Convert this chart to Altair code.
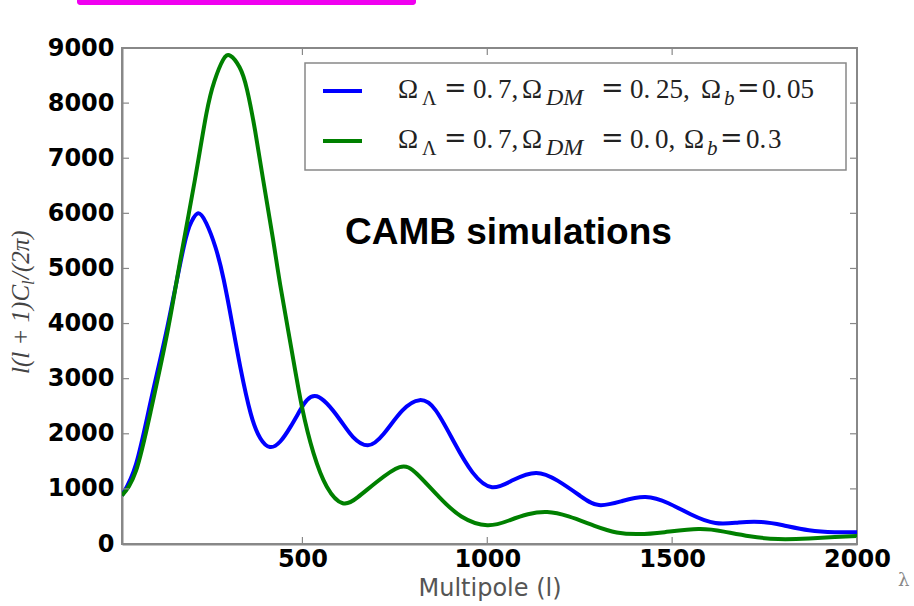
import altair as alt
import pandas as pd

# CAMB temperature power spectra, l(l+1)C_l/(2pi) versus multipole l
ell_std = [12, 50, 90, 135, 179, 200, 218, 240, 265, 287, 310, 332, 360, 386,
           412, 440, 468, 494, 539, 602, 637, 677, 720, 770, 817, 860, 910,
           960, 1013, 1070, 1132, 1190, 1250, 1302, 1365, 1428, 1490, 1550,
           1617, 1680, 1741, 1800, 1870, 1940, 2000]
cl_std = [880, 1450, 2600, 3950, 5390, 5850, 6000, 5820, 5380, 4800, 4000,
          3210, 2370, 1920, 1760, 1860, 2130, 2430, 2680, 2250, 1940, 1790,
          2000, 2420, 2610, 2430, 1850, 1300, 1030, 1160, 1290, 1150, 880,
          707, 780, 851, 740, 540, 380, 390, 400, 340, 250, 215, 215]

ell_nodm = [12, 50, 90, 135, 171, 209, 240, 262, 285, 305, 330, 350, 372, 394,
            420, 440, 470, 499, 530, 566, 609, 650, 700, 763, 810, 870, 930,
            1000, 1060, 1110, 1162, 1220, 1290, 1350, 1410, 1480, 1571, 1640,
            1710, 1787, 1870, 1940, 2000]
cl_nodm = [880, 1330, 2420, 3850, 5200, 6600, 7800, 8400, 8780, 8860, 8650,
           8250, 7500, 6600, 5550, 4700, 3550, 2480, 1650, 1040, 740, 850,
           1120, 1395, 1270, 850, 500, 340, 430, 540, 580, 500, 330, 210, 180,
           215, 270, 225, 140, 90, 100, 125, 145]

series_names = ["std", "nodm"]
series_colors = ["#0000ff", "#008000"]
x_ticks = [500, 1000, 1500, 2000]
y_ticks = [0, 1000, 2000, 3000, 4000, 5000, 6000, 7000, 8000, 9000]

df = pd.concat([
    pd.DataFrame({"l": ell_std, "cl": cl_std, "model": "std"}),
    pd.DataFrame({"l": ell_nodm, "cl": cl_nodm, "model": "nodm"}),
])

W, H = 735, 496
FRAME = "#888888"

x_scale = alt.Scale(domain=[12, 2000], nice=False, zero=False)
y_scale = alt.Scale(domain=[0, 9000], nice=False)

curves = alt.Chart(df).mark_line(
    strokeWidth=4, interpolate="natural", clip=True
).encode(
    x=alt.X("l:Q", scale=x_scale,
            axis=alt.Axis(values=x_ticks, format="d", title="Multipole (l)",
                          ticks=False, grid=False, labelFont="DejaVu Sans",
                          labelFontWeight="bold", labelFontSize=24,
                          labelColor="#000", labelPadding=3,
                          labelFlush=False, labelOverlap=False,
                          domainColor=FRAME, domainWidth=2,
                          titleFont="DejaVu Sans", titleFontWeight="normal",
                          titleFontSize=24, titleColor="#555",
                          titlePadding=5)),
    y=alt.Y("cl:Q", scale=y_scale,
            axis=alt.Axis(values=y_ticks, format="d", title=None, ticks=False,
                          grid=False, labelFont="DejaVu Sans",
                          labelFontWeight="bold", labelFontSize=24,
                          labelColor="#000", labelPadding=8,
                          labelFlush=False, labelOverlap=False,
                          domainColor=FRAME, domainWidth=2)),
    color=alt.Color("model:N", scale=alt.Scale(domain=series_names,
                                               range=series_colors),
                    legend=None),
    detail="model:N",
)

# inward tick marks on all four sides of the frame
xt = pd.DataFrame({"l": x_ticks})
yt = pd.DataFrame({"cl": y_ticks[1:]})
tick_style = dict(color=FRAME, strokeWidth=1.2)
ticks = [
    alt.Chart(xt).mark_rule(**tick_style).encode(
        x=alt.X("l:Q", scale=x_scale), y=alt.value(H), y2=alt.value(H - 7)),
    alt.Chart(xt).mark_rule(**tick_style).encode(
        x=alt.X("l:Q", scale=x_scale), y=alt.value(0), y2=alt.value(7)),
    alt.Chart(yt).mark_rule(**tick_style).encode(
        y=alt.Y("cl:Q", scale=y_scale), x=alt.value(0), x2=alt.value(7)),
    alt.Chart(yt).mark_rule(**tick_style).encode(
        y=alt.Y("cl:Q", scale=y_scale), x=alt.value(W), x2=alt.value(W - 7)),
]


def label(text, x, y, size=26, style="normal", font="Liberation Serif",
          color="#222", weight="normal", angle=0, baseline="alphabetic"):
    return alt.Chart().mark_text(
        text=text, font=font, fontSize=size, fontStyle=style,
        fontWeight=weight, color=color, align="left", baseline=baseline,
        angle=angle,
    ).encode(x=alt.value(x), y=alt.value(y))


# legend box with line handles and typeset labels
OX, OY = 122, 48  # plot origin in page pixels
legend_box = alt.Chart().mark_rect(
    fill="white", stroke=FRAME, strokeWidth=1.5
).encode(x=alt.value(305 - OX), x2=alt.value(846 - OX),
         y=alt.value(63 - OY), y2=alt.value(170 - OY))
handles = [
    alt.Chart().mark_rule(color=c, strokeWidth=4).encode(
        x=alt.value(323 - OX), x2=alt.value(362 - OX), y=alt.value(yy - OY))
    for c, yy in zip(series_colors, [91, 141])
]

# (token, left x, kind): m = main text, e = equals sign,
# L / D / B = subscripts Lambda, DM and b
line1 = [("Ω", 398, "m"), ("Λ", 422, "L"), ("=", 444, "e"), ("0.", 473, "m"),
         ("7,", 498, "m"), ("Ω", 522, "m"), ("DM", 546, "D"),
         ("=", 601, "e"), ("0.", 630, "m"), ("25,", 656, "m"),
         ("Ω", 701, "m"), ("b", 724, "B"), ("=", 737, "e"),
         ("0.", 762, "m"), ("05", 787, "m")]
line2 = [("Ω", 398, "m"), ("Λ", 422, "L"), ("=", 444, "e"), ("0.", 473, "m"),
         ("7,", 498, "m"), ("Ω", 522, "m"), ("DM", 546, "D"),
         ("=", 601, "e"), ("0.", 630, "m"), ("0,", 655, "m"),
         ("Ω", 684, "m"), ("b", 707, "B"), ("=", 720, "e"),
         ("0.", 746, "m"), ("3", 768, "m")]

sub_style = {"L": (20, "normal"), "D": (24, "italic"), "B": (21, "italic")}

legend_text = []
for tokens, base in [(line1, 98), (line2, 148)]:
    for tok, x, kind in tokens:
        if kind == "m":
            legend_text.append(label(tok, x - OX, base - OY, size=27))
        elif kind == "e":
            legend_text.append(label(tok, x - OX, base - 1 - OY, size=27,
                                     font="DejaVu Serif"))
        else:
            size, style = sub_style[kind]
            legend_text.append(label(tok, x - OX, base + 7 - OY, size=size,
                                     style=style))

annot = label("CAMB simulations", 345 - OX, 244 - OY, size=37,
              font="Liberation Sans", weight="bold", color="#000")

# rotated y-axis title: l(l+1)C_l/(2pi)
ytitle = [
    label("l(l + 1)C", 29 - OX, 374 - OY, size=25, style="italic",
          color="#444", angle=270),
    label("l", 34 - OX, 285 - OY, size=17, style="italic", color="#444",
          angle=270),
    label("/(2π)", 29 - OX, 279 - OY, size=25, style="italic",
          color="#444", angle=270),
]

top_bar = alt.Chart().mark_rect(color="#f000f0", cornerRadius=3).encode(
    x=alt.value(77 - OX), x2=alt.value(416 - OX),
    y=alt.value(-4 - OY), y2=alt.value(5 - OY))

edge_glyph = label("λ", 898 - OX, 586 - OY, size=18, font="DejaVu Serif",
                   color="#888")

chart = alt.layer(
    curves, *ticks, legend_box, *handles, *legend_text, annot, *ytitle,
    top_bar, edge_glyph,
).properties(
    width=W, height=H,
    autosize=alt.AutoSizeParams(type="none"),
    padding={"left": OX, "top": OY, "right": 914 - OX - W,
             "bottom": 606 - OY - H},
    background="white",
).configure_view(stroke=FRAME, strokeWidth=2)

chart.save("out.html", embed_options={"renderer": "svg", "actions": False})
